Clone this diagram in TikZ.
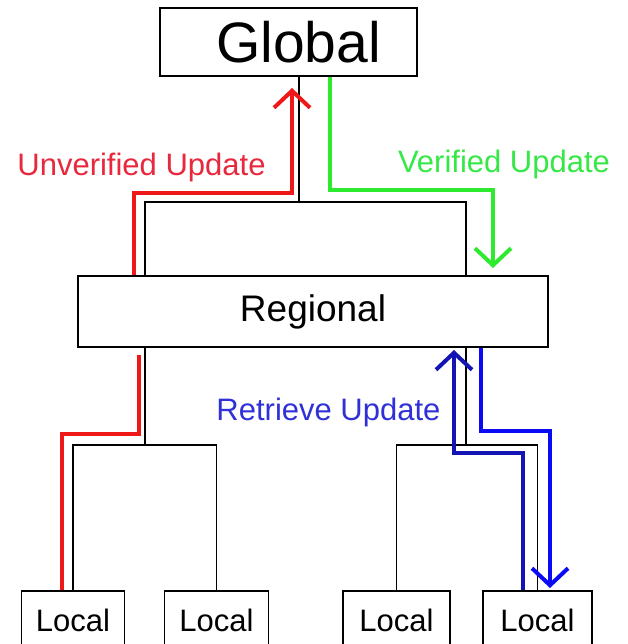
\documentclass[tikz,border=0pt]{standalone}
\usepackage{fontspec}
\setmainfont{Liberation Sans}
\usetikzlibrary{arrows.meta}
\definecolor{unvred}{HTML}{EE1818}
\definecolor{unvtext}{HTML}{E8283C}
\definecolor{vergreen}{HTML}{2EEA2E}
\definecolor{vertext}{HTML}{36E846}
\definecolor{retdark}{HTML}{1414B4}
\definecolor{retblue}{HTML}{0A0AF5}
\definecolor{rettext}{HTML}{3030D8}

\begin{document}
\begin{tikzpicture}[>={Straight Barb[length=17bp,width=36bp]},line join=miter,
  box/.style={draw,line width=1.8bp,inner sep=0pt},
  tree/.style={line width=1.8bp},
  flow/.style={line width=4bp},
  lbl/.style={anchor=base,inner sep=0pt,font=\fontsize{31bp}{34bp}\selectfont},
  ]
\useasboundingbox (0bp,0bp) rectangle (628bp,-644bp);
%%
\node (node_global) at (288.5bp,-42bp) [box,minimum width=257bp,minimum height=68bp,font=\fontsize{57bp}{60bp}\selectfont] {\hspace*{20bp}Global};
\node (node_regional) at (313bp,-311.5bp) [box,minimum width=470bp,minimum height=71bp,font=\fontsize{37bp}{40bp}\selectfont] {Regional};
\node (node_local_1) at (73bp,-620bp) [box,minimum width=103bp,minimum height=58bp,font=\fontsize{31bp}{34bp}\selectfont] {Local};
\node (node_local_2) at (216.5bp,-620bp) [box,minimum width=104bp,minimum height=58bp,font=\fontsize{31bp}{34bp}\selectfont] {Local};
\node (node_local_3) at (396.5bp,-620bp) [box,minimum width=107bp,minimum height=58bp,font=\fontsize{31bp}{34bp}\selectfont] {Local};
\node (node_local_4) at (537.5bp,-620bp) [box,minimum width=109bp,minimum height=58bp,font=\fontsize{31bp}{34bp}\selectfont] {Local};
%
\node (label_unverified) at (141.5bp,-175bp) [lbl,text=unvtext] {Unverified Update};
\node (label_verified) at (504bp,-172bp) [lbl,text=vertext] {Verified Update};
\node (label_retrieve) at (328.5bp,-420bp) [lbl,text=rettext] {Retrieve Update};
%% tree
\coordinate (fork_top) at (299bp,-202bp);
\coordinate (fork_left) at (145bp,-445bp);
\coordinate (fork_right) at (466bp,-445bp);
\draw [tree] (node_global.south -| fork_top) -- (fork_top);
\draw [tree] (node_regional.north -| fork_left) |- (fork_top) -| (node_regional.north -| fork_right);
\draw [tree] (node_regional.south -| fork_left) -- (fork_left);
\draw [tree] (node_local_1.north) |- (fork_left) -| (node_local_2.north);
\draw [tree] (node_regional.south -| fork_right) -- (fork_right);
\draw [tree] (node_local_3.north) |- (fork_right) -| (node_local_4.north);
%% unverified update
\coordinate (unv_1) at (62bp,-434bp);
\coordinate (unv_2) at (139bp,-355bp);
\coordinate (unv_3) at (134bp,-193bp);
\coordinate (unv_4) at (292bp,-88bp);
\draw [flow,unvred] (node_local_1.north -| unv_1) -- (unv_1) -| (unv_2);
\draw [flow,unvred,->] (node_regional.north -| unv_3) -- (unv_3) -| (unv_4);
%% verified update
\coordinate (ver_1) at (330bp,-190bp);
\coordinate (ver_2) at (493bp,-268bp);
\draw [flow,vergreen,->] (node_global.south -| ver_1) -- (ver_1) -| (ver_2);
%% retrieve update
\coordinate (ret_1) at (523bp,-453bp);
\coordinate (ret_2) at (454bp,-350bp);
\coordinate (ret_3) at (481bp,-431bp);
\coordinate (ret_4) at (550bp,-588bp);
\draw [flow,retdark,->] (node_local_4.north -| ret_1) -- (ret_1) -| (ret_2);
\draw [flow,retblue,->] (node_regional.south -| ret_3) -- (ret_3) -| (ret_4);
%
\end{tikzpicture}
\end{document}
